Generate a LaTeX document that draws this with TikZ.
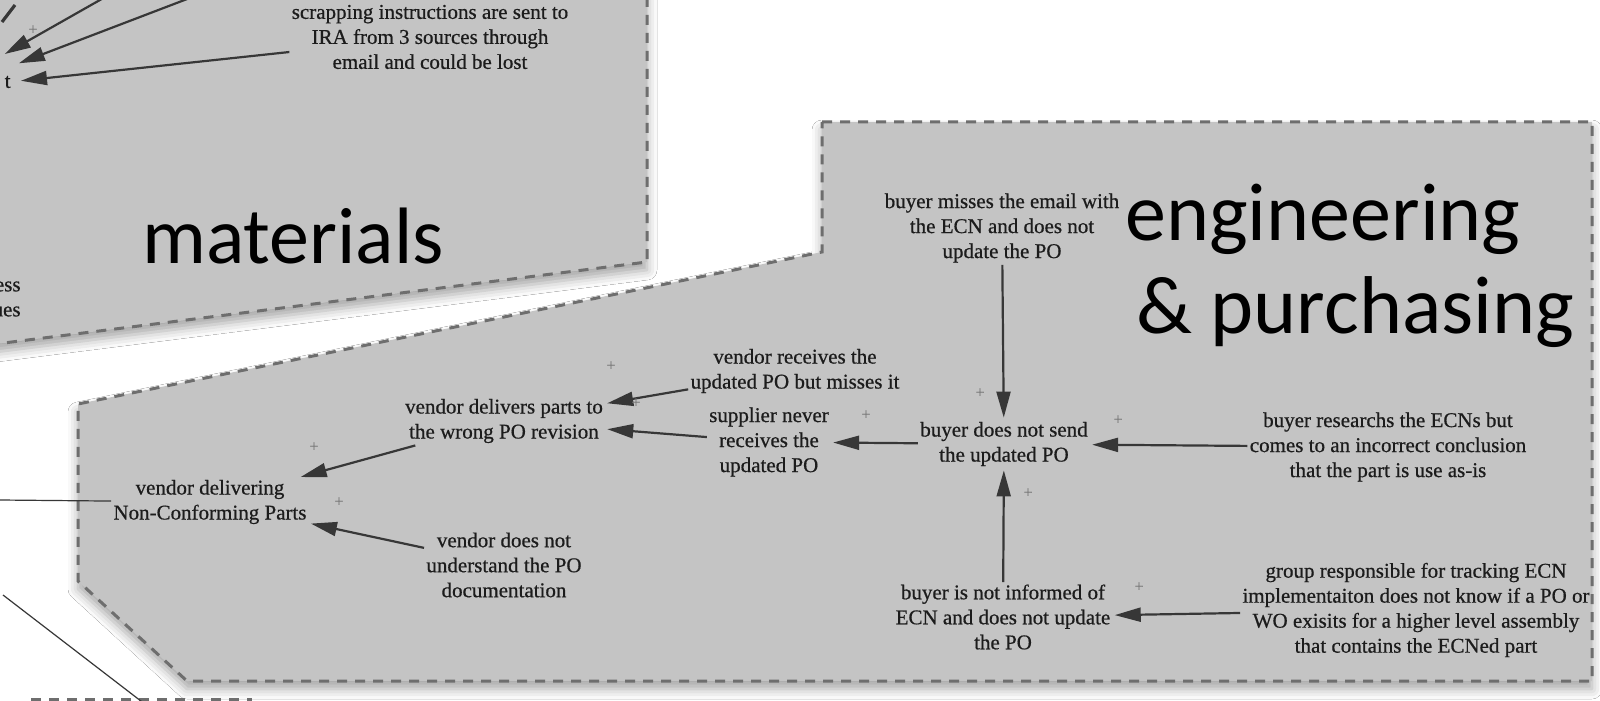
\documentclass[tikz,border=0pt]{standalone}
\usepackage{fontspec}
\setmainfont{Liberation Serif}[FakeBold=0.6]
\newfontfamily\labelfont{Carlito}
\usetikzlibrary{arrows.meta,calc,shadows.blur}

\definecolor{panelgray}{RGB}{196,196,196}
\definecolor{edgegray}{RGB}{110,110,110}
\definecolor{inkgray}{RGB}{28,28,28}
\definecolor{linkgray}{RGB}{55,55,55}
\definecolor{plusgray}{RGB}{120,120,120}

\tikzset{
  panel/.style={fill=panelgray, draw=edgegray, line width=1.5pt,
    dash pattern=on 5pt off 4pt,
    blur shadow={shadow xshift=0pt, shadow yshift=-4pt,
      shadow blur radius=5pt, shadow opacity=35}},
  var/.style={align=center, font=\fontsize{10.5}{12.5}\selectfont,
    text=inkgray, inner sep=1pt},
  link/.style={draw=linkgray, line width=1.1pt,
    -{Triangle[length=13pt,width=7pt]}, shorten >=1pt},
  thin link/.style={draw=linkgray, line width=0.6pt},
  polarity/.style={font=\fontsize{8}{8}\selectfont, text=plusgray, inner sep=0pt},
  area/.style={font=\labelfont\fontsize{41}{41}\selectfont, text=black,
    inner sep=0pt, anchor=base west},
}

\begin{document}
\begin{tikzpicture}[x=0.5pt, y=-0.5pt]
\useasboundingbox (0,0) rectangle (1600,701);
\fill[white] (0,0) rectangle (1600,701);
\clip (0,0) rectangle (1600,701);

% panels
\path[panel] (-20,-20) -- (647,-20) -- (647,262) -- (-20,346) -- cycle;
\path[panel] (822,122) -- (1592,122) -- (1592,681) -- (187,681)
  -- (78,581) -- (78,404) -- (822,252) -- cycle;
% top edge of the panel below
\draw[edgegray, line width=1.5pt, dash pattern=on 5pt off 4pt]
  (31,699) -- (252,699);

% area labels
\node[area, font=\labelfont\fontsize{40}{40}\selectfont] (matlabel) at (142,263) {materials};
\node[area] (englabel) at (1125,240) {engineering};
\node[area] (purlabel) at (1136,333) {\& purchasing};

% materials variables
\node[var] (S) at (430,37) {scrapping instructions are sent to\\IRA from 3 sources through\\email and could be lost};
\node[var, anchor=east] (Sx) at (13,82) {t};
\node[var, anchor=east, align=right] (Sy) at (23,299) {ess\\ues};
\coordinate (a1s) at (107,-4);
\coordinate (a1e) at (3,55);
\coordinate (a2s) at (195,-4);
\coordinate (a2e) at (17,64);
\coordinate (a3e) at (19,81);
\draw[link] (a1s) -- (a1e);
\draw[link] (a2s) -- (a2e);
\draw[link] (S) -- (a3e);
\draw[linkgray, line width=1.6pt] (2,22) -- (15,5);
\node[polarity] (p0) at (33,30) {+};

% engineering & purchasing variables
\node[var] (A) at (1002,228) {buyer misses the email with\\the ECN and does not\\update the PO};
\node[var] (B) at (1004,444) {buyer does not send\\the updated PO};
\node[var] (C) at (1388,447) {buyer researchs the ECNs but\\comes to an incorrect conclusion\\that the part is use as-is};
\node[var] (D) at (1003,617) {buyer is not informed of\\ECN and does not update\\the PO};
\node[var] (E) at (1416,610) {group responsible for tracking ECN\\implementaiton does not know if a PO or\\WO exisits for a higher level assembly\\that contains the ECNed part};
\node[var] (F) at (769,442) {supplier never\\receives the\\updated PO};
\node[var] (G) at (504,421) {vendor delivers parts to\\the wrong PO revision};
\node[var] (H) at (795,371) {vendor receives the\\updated PO but misses it};
\node[var] (I) at (210,502) {vendor delivering\\Non-Conforming Parts};
\node[var] (J) at (504,565) {vendor does not\\understand the PO\\documentation};

\draw[link] (A) -- (B);
\draw[link] (C) -- (B);
\draw[link] (D) -- (B);
\draw[link] (E) -- (D);
\draw[link] (B) -- (F);
\draw[link] (F) -- (G);
\draw[link] (H) -- (G);
\draw[link] (G) -- (I);
\draw[link] (J) -- (I);

\coordinate (Iout) at (0,500);
\draw[thin link] (I) -- (Iout);
\coordinate (d1) at (3,595);
\coordinate (d2) at (150,708);
\draw[thin link] (d1) -- (d2);

% polarity signs
\node[polarity] (p1) at (980,393) {+};
\node[polarity] (p2) at (1118,420) {+};
\node[polarity] (p3) at (1028,493) {+};
\node[polarity] (p4) at (1139,587) {+};
\node[polarity] (p5) at (866,415) {+};
\node[polarity] (p6) at (636,403) {+};
\node[polarity] (p7) at (611,366) {+};
\node[polarity] (p8) at (314,447) {+};
\node[polarity] (p9) at (339,502) {+};
\end{tikzpicture}
\end{document}
